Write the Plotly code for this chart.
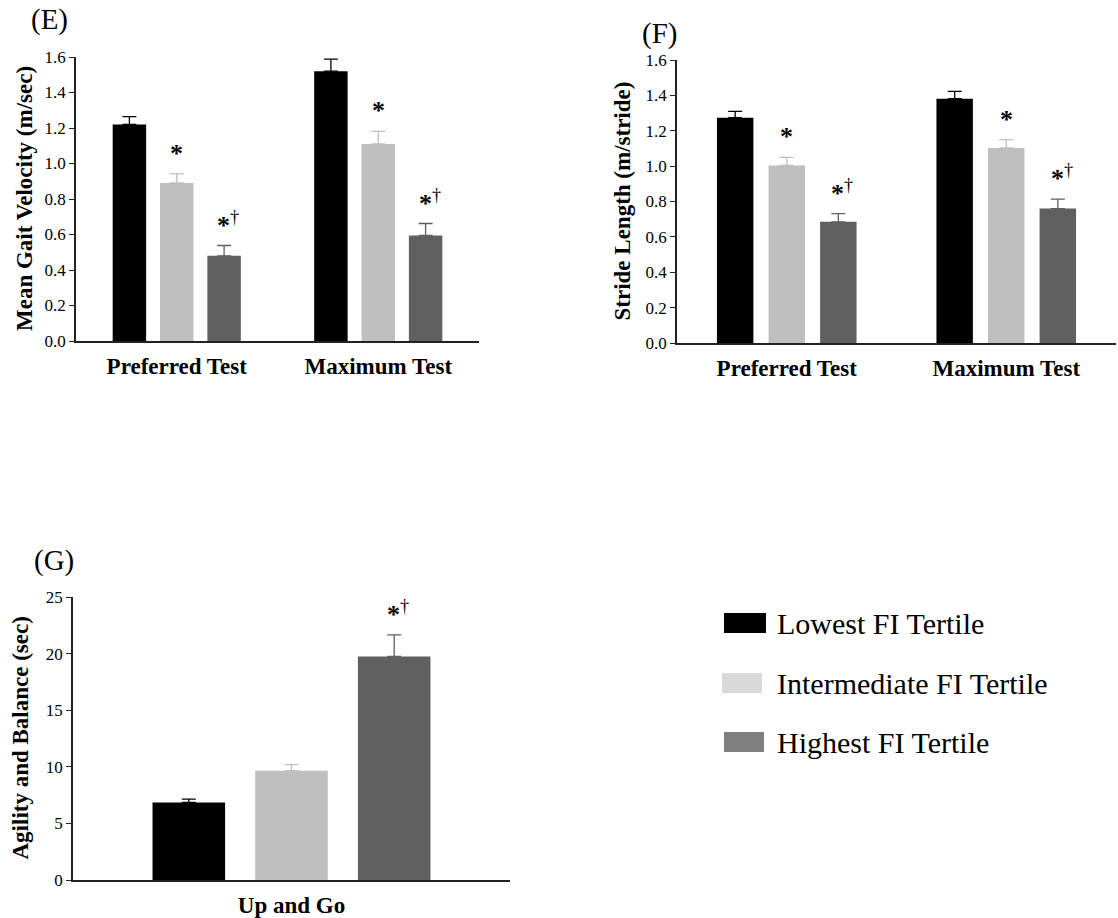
import plotly.graph_objects as go

# ---------------- data ----------------
tertiles = ["Lowest FI Tertile", "Intermediate FI Tertile", "Highest FI Tertile"]
bar_colors = ["#000000", "#bfbfbf", "#606060"]
legend_colors = ["#000000", "#d9d9d9", "#808080"]

tests = ["Preferred Test", "Maximum Test"]

# Panel E: Mean gait velocity (m/sec)
gait_lowest = [1.22, 1.52]
gait_inter = [0.89, 1.11]
gait_high = [0.48, 0.595]
gait_lowest_err = [0.044, 0.068]
gait_inter_err = [0.051, 0.071]
gait_high_err = [0.058, 0.067]

# Panel F: Stride length (m/stride)
stride_lowest = [1.274, 1.381]
stride_inter = [1.004, 1.103]
stride_high = [0.685, 0.760]
stride_lowest_err = [0.035, 0.042]
stride_inter_err = [0.045, 0.047]
stride_high_err = [0.047, 0.053]

# Panel G: Up and Go (sec)
upgo_cat = ["Up and Go"]
upgo_vals = [6.85, 9.65, 19.75]
upgo_err = [0.30, 0.55, 1.90]

# significance marks per tertile (per panel)
sig_marks = ["", "*", "*†"]
sig_marks_g = ["", "", "*†"]

y_titles = ["Mean Gait Velocity (m/sec)", "Stride Length (m/stride)", "Agility and Balance (sec)"]
panel_labels = ["(E)", "(F)", "(G)"]

y_ticks_ef = [0.0, 0.2, 0.4, 0.6, 0.8, 1.0, 1.2, 1.4, 1.6]
y_ticks_g = [0, 5, 10, 15, 20, 25]

# ---------------- layout helpers ----------------
W, H = 1118, 918
FONT = "Liberation Serif"
OFFS = [-0.235, 0.0, 0.235]
BW = 0.166


def px(x):
    return x / W


def py(y):
    return 1 - y / H


fig = go.Figure()


def add_panel(xref, yref, cats, series, errs, marks):
    for j, (vals, er) in enumerate(zip(series, errs)):
        xs = [i + OFFS[j] for i in range(len(cats))]
        fig.add_trace(go.Bar(
            x=xs, y=vals, width=BW, xaxis=xref, yaxis=yref,
            marker=dict(color=bar_colors[j], line=dict(width=0)),
            error_y=dict(type="data", array=er, arrayminus=[0] * len(er), symmetric=False,
                         color=bar_colors[j], thickness=1.3, width=7),
            showlegend=False, name=tertiles[j],
        ))
        if marks[j]:
            for x, v, e in zip(xs, vals, er):
                txt = "<b>*</b>" if marks[j] == "*" else "<b>*</b><sup>†</sup>"
                fig.add_annotation(
                    x=x, y=v + e, xref=xref, yref=yref, text=txt, showarrow=False,
                    yanchor="bottom", xanchor="center", yshift=4,
                    xshift=0 if marks[j] == "*" else 4,
                    font=dict(family=FONT, size=26, color="black"),
                )


add_panel("x", "y", tests, [gait_lowest, gait_inter, gait_high],
          [gait_lowest_err, gait_inter_err, gait_high_err], sig_marks)
add_panel("x2", "y2", tests, [stride_lowest, stride_inter, stride_high],
          [stride_lowest_err, stride_inter_err, stride_high_err], sig_marks)
add_panel("x3", "y3", upgo_cat,
          [[upgo_vals[0]], [upgo_vals[1]], [upgo_vals[2]]],
          [[upgo_err[0]], [upgo_err[1]], [upgo_err[2]]], sig_marks_g)

axis_line = dict(showline=True, linecolor="#222222", linewidth=1.5, showgrid=False,
                 zeroline=False, automargin=False, fixedrange=True)


def xaxis(dom, ncat, labels, anchor):
    return dict(domain=dom, range=[-0.5, ncat - 0.5], tickvals=list(range(ncat)),
                ticktext=labels, ticks="", anchor=anchor, ticklabelstandoff=4,
                tickfont=dict(family=FONT, size=23, color="black", weight="bold"),
                **axis_line)


def yaxis(dom, rng, tv, fmt, anchor):
    return dict(domain=dom, range=rng, tickvals=tv, tickformat=fmt, ticks="outside",
                ticklen=5, tickwidth=1.3, tickcolor="#222222", anchor=anchor,
                tickfont=dict(family=FONT, size=17, color="black"),
                **axis_line)


# plot-area pixel boxes: (left, right, top, bottom)
boxE = (76, 479, 57, 341)
boxF = (677, 1116, 60, 343)
boxG = (73, 510, 597, 880)

fig.update_layout(
    width=W, height=H, margin=dict(l=0, r=0, t=0, b=0, autoexpand=False),
    paper_bgcolor="white", plot_bgcolor="white", barmode="overlay",
    font=dict(family=FONT, color="black"),
    xaxis=xaxis([px(boxE[0]), px(boxE[1])], 2, tests, "y"),
    yaxis=yaxis([py(boxE[3]), py(boxE[2])], [0, 1.6], y_ticks_ef, ".1f", "x"),
    xaxis2=xaxis([px(boxF[0]), px(boxF[1])], 2, tests, "y2"),
    yaxis2=yaxis([py(boxF[3]), py(boxF[2])], [0, 1.6], y_ticks_ef, ".1f", "x2"),
    xaxis3=xaxis([px(boxG[0]), px(boxG[1])], 1, upgo_cat, "y3"),
    yaxis3=yaxis([py(boxG[3]), py(boxG[2])], [0, 25], y_ticks_g, "d", "x3"),
)

# y-axis titles
for title, xc, box in zip(y_titles, [25, 622, 20], [boxE, boxF, boxG]):
    fig.add_annotation(x=px(xc), y=py((box[2] + box[3]) / 2), xref="paper", yref="paper",
                       text="<b>" + title + "</b>", textangle=-90, showarrow=False,
                       xanchor="center", yanchor="middle",
                       font=dict(family=FONT, size=23, color="black"))

# panel labels
for lab, x, y in zip(panel_labels, [29, 640, 32], [20, 34, 560]):
    fig.add_annotation(x=px(x), y=py(y), xref="paper", yref="paper", text=lab,
                       showarrow=False, xanchor="left", yanchor="middle",
                       font=dict(family=FONT, size=29, color="black"))

# legend (drawn manually to mimic the reference)
leg_rows = [(613, 633, 724, 766), (673, 693, 722, 762), (732, 752, 724, 764)]
for (y0, y1, x0, x1), name, col in zip(leg_rows, tertiles, legend_colors):
    fig.add_shape(type="rect", xref="paper", yref="paper", x0=px(x0), x1=px(x1),
                  y0=py(y1), y1=py(y0), fillcolor=col, line=dict(width=0))
    fig.add_annotation(x=px(775), y=py((y0 + y1) / 2), xref="paper", yref="paper",
                       text=name, showarrow=False, xanchor="left", yanchor="middle",
                       font=dict(family=FONT, size=30, color="black"))

fig.write_html("out.html", config={"displayModeBar": False},
               post_script="document.body.style.margin='0';document.body.style.overflow='hidden';")
